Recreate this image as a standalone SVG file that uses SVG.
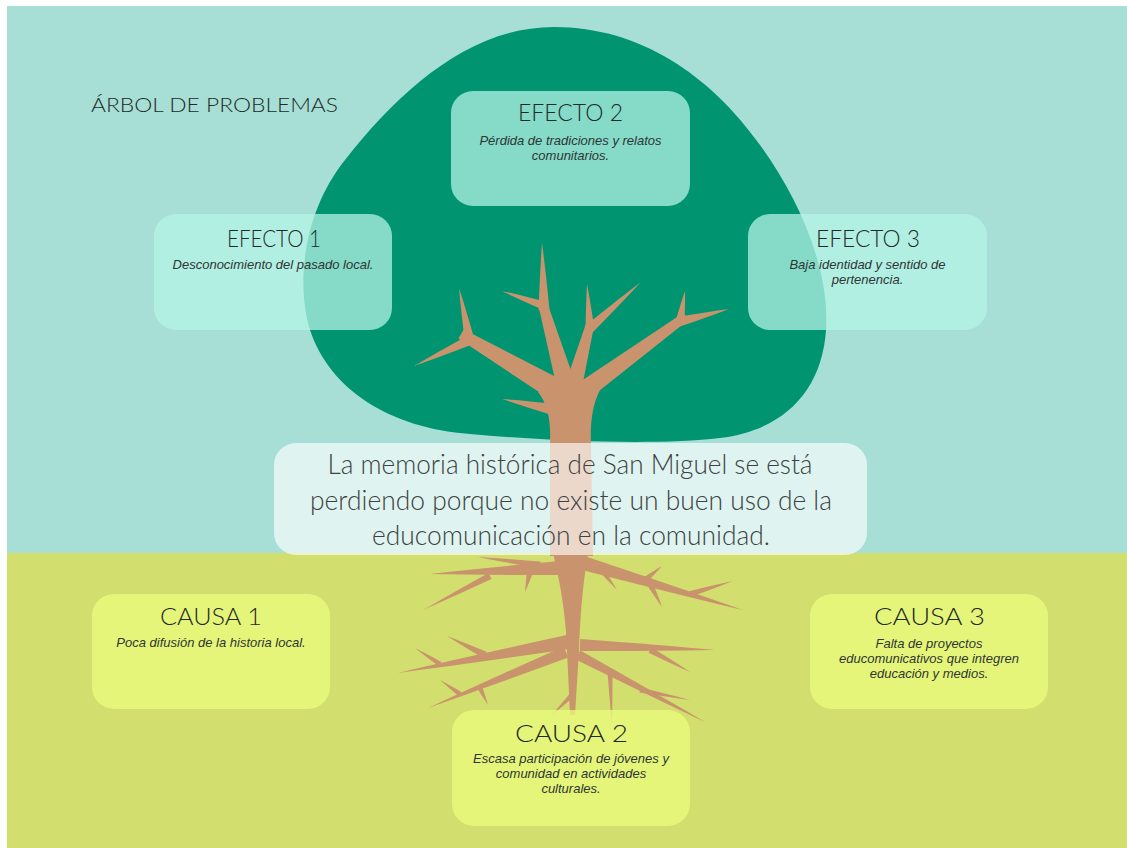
<svg xmlns="http://www.w3.org/2000/svg" xmlns:xlink="http://www.w3.org/1999/xlink" width="1127" height="848" viewBox="0 0 1127 848">
<style>
.eff{fill:rgb(183,246,232);fill-opacity:0.73}
.cau{fill:rgb(235,252,126);fill-opacity:0.75}
.ttl{font-family:Lato,"Open Sans","Liberation Sans",sans-serif;font-weight:300;font-size:24px;fill:#1e2a28;text-anchor:middle}
.sub{font-family:"Liberation Sans",Arial,sans-serif;font-style:italic;font-size:13px;fill:#2e3533;text-anchor:middle}
.main{font-family:Lato,"Open Sans","Liberation Sans",sans-serif;font-weight:300;font-size:27px;fill:#3c4241;text-anchor:middle}
.wood{fill:#c9936d}
</style>
<defs>
<path id="seg" d="M0,-0.5 L1.05,-0.22 L1.05,0.22 L0,0.5 Z"/>
<path id="tip" d="M0,-0.5 Q0.6,-0.25 1,0 Q0.6,0.25 0,0.5 Z"/>
</defs>
<rect x="0" y="0" width="1127" height="848" fill="#ffffff"/>
<rect x="7" y="6" width="1120" height="548" fill="#a7dfd6"/>
<rect x="7" y="553" width="1120" height="295" fill="#d2df6e"/>

<g id="tree">
<path id="canopy" fill="#019471" d="M554,27 C640,27 710,75 760,145 C800,200 830,270 826,330 C822,390 785,430 720,438 C660,445 560,442 470,434 C390,428 330,390 310,330 C295,280 305,210 345,160 C400,90 470,27 554,27 Z"/>
<g class="wood">
<path d="M550,445 C551,420 548,405 538,392 L600,390 C592,405 590,425 591,445 L593,556 L550,556 Z"/>
<path d="M553,553 L588,553 C582,590 580,620 579,650 L575,715 L570,715 L567,650 C566,620 562,590 553,553 Z"/>
<use xlink:href="#seg" transform="translate(565,395) rotate(210.4) scale(114.7,24)"/>
<use xlink:href="#tip" transform="translate(470,340) rotate(155.1) scale(61.7,10)"/>
<use xlink:href="#tip" transform="translate(470,342) rotate(258.5) scale(55.1,10)"/>
<use xlink:href="#seg" transform="translate(568,392) rotate(254) scale(90.5,20)"/>
<use xlink:href="#tip" transform="translate(544,310) rotate(268.3) scale(67,11)"/>
<use xlink:href="#tip" transform="translate(542,305) rotate(199.3) scale(42.4,8)"/>
<use xlink:href="#seg" transform="translate(572,392) rotate(285) scale(69.4,18)"/>
<use xlink:href="#tip" transform="translate(590,330) rotate(266.3) scale(46.1,9)"/>
<use xlink:href="#tip" transform="translate(588,330) rotate(317.8) scale(71.5,10)"/>
<use xlink:href="#seg" transform="translate(578,395) rotate(323.9) scale(127.4,20)"/>
<use xlink:href="#tip" transform="translate(680,322) rotate(279.2) scale(31.4,9)"/>
<use xlink:href="#tip" transform="translate(678,322) rotate(345.7) scale(52.6,10)"/>
<use xlink:href="#tip" transform="translate(556,410) rotate(191.5) scale(55.1,12)"/>
<use xlink:href="#tip" transform="translate(560,568) rotate(177.4) scale(130.1,14)"/>
<use xlink:href="#tip" transform="translate(490,576) rotate(153.1) scale(75.1,7)"/>
<use xlink:href="#tip" transform="translate(540,565) rotate(187.4) scale(62.5,7)"/>
<use xlink:href="#tip" transform="translate(530,572) rotate(104) scale(20.6,6)"/>
<use xlink:href="#tip" transform="translate(583,563) rotate(16.4) scale(166.8,14)"/>
<use xlink:href="#tip" transform="translate(645,580) rotate(320.5) scale(22,6)"/>
<use xlink:href="#tip" transform="translate(690,594) rotate(343.2) scale(44.9,6)"/>
<use xlink:href="#tip" transform="translate(600,568) rotate(52.3) scale(27.8,6)"/>
<use xlink:href="#tip" transform="translate(650,584) rotate(62.4) scale(25.9,6)"/>
<use xlink:href="#tip" transform="translate(568,642) rotate(169.7) scale(172.8,14)"/>
<use xlink:href="#tip" transform="translate(485,655) rotate(206.6) scale(42.5,7)"/>
<use xlink:href="#tip" transform="translate(440,664) rotate(212.6) scale(29.7,5)"/>
<use xlink:href="#tip" transform="translate(566,652) rotate(157.9) scale(148.9,12)"/>
<use xlink:href="#tip" transform="translate(480,688) rotate(64.8) scale(18.8,5)"/>
<use xlink:href="#tip" transform="translate(460,694) rotate(215) scale(24.4,5)"/>
<use xlink:href="#tip" transform="translate(580,645) rotate(2.1) scale(135.1,12)"/>
<use xlink:href="#tip" transform="translate(650,650) rotate(28.8) scale(45.7,6)"/>
<use xlink:href="#tip" transform="translate(578,655) rotate(27.8) scale(143.6,10)"/>
<use xlink:href="#tip" transform="translate(640,690) rotate(11.3) scale(51,5)"/>
<use xlink:href="#tip" transform="translate(610,672) rotate(87.8) scale(53,5)"/>
<use xlink:href="#tip" transform="translate(572,695) rotate(135) scale(28,5)"/>
</g>
</g>

<text x="214.5" y="112" font-family="Lato,'Open Sans','Liberation Sans',sans-serif" font-weight="300" font-size="20" fill="#1e2a28" text-anchor="middle" textLength="247" lengthAdjust="spacingAndGlyphs">ÁRBOL DE PROBLEMAS</text>

<g id="efecto2">
<rect class="eff" x="451" y="91" width="239" height="115" rx="22"/>
<text class="ttl" x="570.5" y="121" textLength="105" lengthAdjust="spacingAndGlyphs">EFECTO 2</text>
<text class="sub" x="570.5" y="145">Pérdida de tradiciones y relatos</text>
<text class="sub" x="570.5" y="160">comunitarios.</text>
</g>
<g id="efecto1">
<rect class="eff" x="154" y="214" width="238" height="116" rx="22"/>
<text class="ttl" x="274" y="247" textLength="94" lengthAdjust="spacingAndGlyphs">EFECTO 1</text>
<text class="sub" x="273" y="269">Desconocimiento del pasado local.</text>
</g>
<g id="efecto3">
<rect class="eff" x="748" y="214" width="239" height="116" rx="22"/>
<text class="ttl" x="868" y="247" textLength="104" lengthAdjust="spacingAndGlyphs">EFECTO 3</text>
<text class="sub" x="867.5" y="269">Baja identidad y sentido de</text>
<text class="sub" x="867.5" y="284">pertenencia.</text>
</g>

<g id="problema">
<rect x="274" y="443" width="593" height="112" rx="22" fill="#ffffff" fill-opacity="0.64"/>
<text class="main" x="570" y="474" textLength="485" lengthAdjust="spacingAndGlyphs">La memoria histórica de San Miguel se está</text>
<text class="main" x="571" y="510" textLength="522" lengthAdjust="spacingAndGlyphs">perdiendo porque no existe un buen uso de la</text>
<text class="main" x="571" y="545" textLength="398" lengthAdjust="spacingAndGlyphs">educomunicación en la comunidad.</text>
</g>

<g id="causa1">
<rect class="cau" x="92" y="594" width="238" height="115" rx="22"/>
<text class="ttl" x="211" y="625" textLength="102" lengthAdjust="spacingAndGlyphs">CAUSA 1</text>
<text class="sub" x="211" y="647">Poca difusión de la historia local.</text>
</g>
<g id="causa3">
<rect class="cau" x="810" y="594" width="238" height="115" rx="22"/>
<text class="ttl" x="929.5" y="625" textLength="111" lengthAdjust="spacingAndGlyphs">CAUSA 3</text>
<text class="sub" x="929" y="648">Falta de proyectos</text>
<text class="sub" x="929" y="663">educomunicativos que integren</text>
<text class="sub" x="929" y="678">educación y medios.</text>
</g>
<g id="causa2">
<rect class="cau" x="452" y="710" width="238" height="116" rx="22"/>
<text class="ttl" x="571.5" y="742" textLength="113" lengthAdjust="spacingAndGlyphs">CAUSA 2</text>
<text class="sub" x="571" y="763">Escasa participación de jóvenes y</text>
<text class="sub" x="571" y="778">comunidad en actividades</text>
<text class="sub" x="571" y="793">culturales.</text>
</g>
</svg>
